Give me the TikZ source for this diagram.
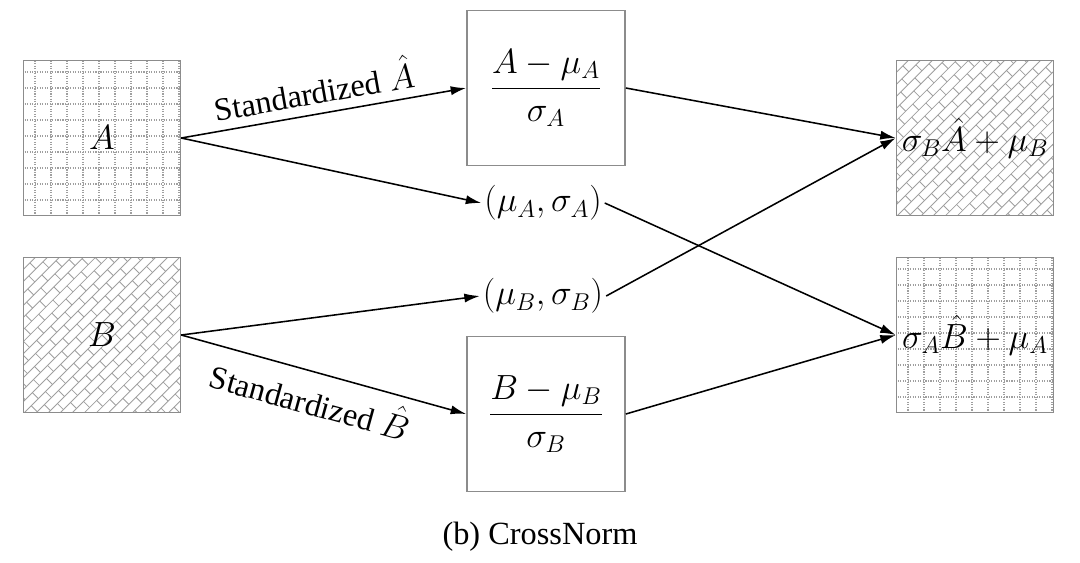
\documentclass[tikz,border=0pt]{standalone}
\usepackage{amsmath}
\usepackage{fontspec}
\setmainfont{Liberation Serif}
\usetikzlibrary{arrows.meta,positioning}

% dotted grid texture, centred at (#1,#2)
\newcommand{\gridpat}[2]{%
  \begin{scope}[shift={(#1,#2)}]
    \clip (-78,-77) rectangle (78,77);
    \foreach \k in {0,...,9}
      \draw[gray!75,densely dotted,line width=0.8pt] (-67+\k*16,-80) -- (-67+\k*16,80)
                                                   (-80,-66+\k*16) -- (80,-66+\k*16);
  \end{scope}}
% diagonal brick texture, centred at (#1,#2)
\newcommand{\brickpat}[2]{%
  \begin{scope}[shift={(#1,#2)}]
    \clip (-78,-77) rectangle (78,77);
    \begin{scope}[rotate=45]
      \foreach \i in {-14,...,14} {
        \draw[gray!75,line width=0.6pt] (-130,\i*8.5) -- (130,\i*8.5);
        \foreach \j in {-7,...,7}
          \draw[gray!75,line width=0.6pt] (\j*20+\i*10,\i*8.5) -- ++(0,8.5);
      }
    \end{scope}
  \end{scope}}

\begin{document}
\begin{tikzpicture}[x=0.025cm,y=-0.025cm,
  every node/.style={font=\fontsize{23}{27}\selectfont},
  imgbox/.style={draw=gray!90,line width=1.2pt,minimum width=3.92cm,minimum height=3.88cm,inner sep=0pt},
  midbox/.style={draw=gray!90,line width=1.2pt,fill=white,minimum width=3.95cm,minimum height=3.88cm,inner sep=0pt},
  flow/.style={line width=1.1pt,-{Latex[length=11pt,width=6.5pt]}}]

  \useasboundingbox (0,0) rectangle (1080,562);

  % textures first
  \gridpat{102}{138}
  \brickpat{102}{335}
  \brickpat{975}{138}
  \gridpat{975}{335}

  % inputs
  \node[imgbox] (A) at (102,138) {$A$};
  \node[imgbox] (B) at (102,335) {$B$};

  % standardized and statistics
  \node[midbox] (normA) at (546,88) {$\displaystyle\frac{A-\mu_A}{\sigma_A}$};
  \node[midbox] (normB) at (546,414) {$\displaystyle\frac{B-\mu_B}{\sigma_B}$};
  \node[inner sep=2pt] (statA) at (543,203) {$(\mu_A,\sigma_A)$};
  \node[inner sep=2pt] (statB) at (543,296) {$(\mu_B,\sigma_B)$};

  % outputs
  \node[imgbox] (outA) at (975,138) {$\sigma_B\hat{A}+\mu_B$};
  \node[imgbox] (outB) at (975,335) {$\sigma_A\hat{B}+\mu_A$};

  \draw[flow] (A.east) -- node[above=3pt,sloped,pos=0.48] {Standardized $\hat{A}$} (normA.west);
  \draw[flow] (A.east) -- (statA.west);
  \draw[flow] (B.east) -- (statB.west);
  \draw[flow] (B.east) -- node[below=3pt,sloped,pos=0.48] {Standardized $\hat{B}$} (normB.west);
  \draw[flow] (normA.east) -- (outA.west);
  \draw[flow] (statB.east) -- (outA.west);
  \draw[flow] (statA.east) -- (outB.west);
  \draw[flow] (normB.east) -- (outB.west);

  \node (cap) at (540,537) {(b) CrossNorm};
\end{tikzpicture}
\end{document}
